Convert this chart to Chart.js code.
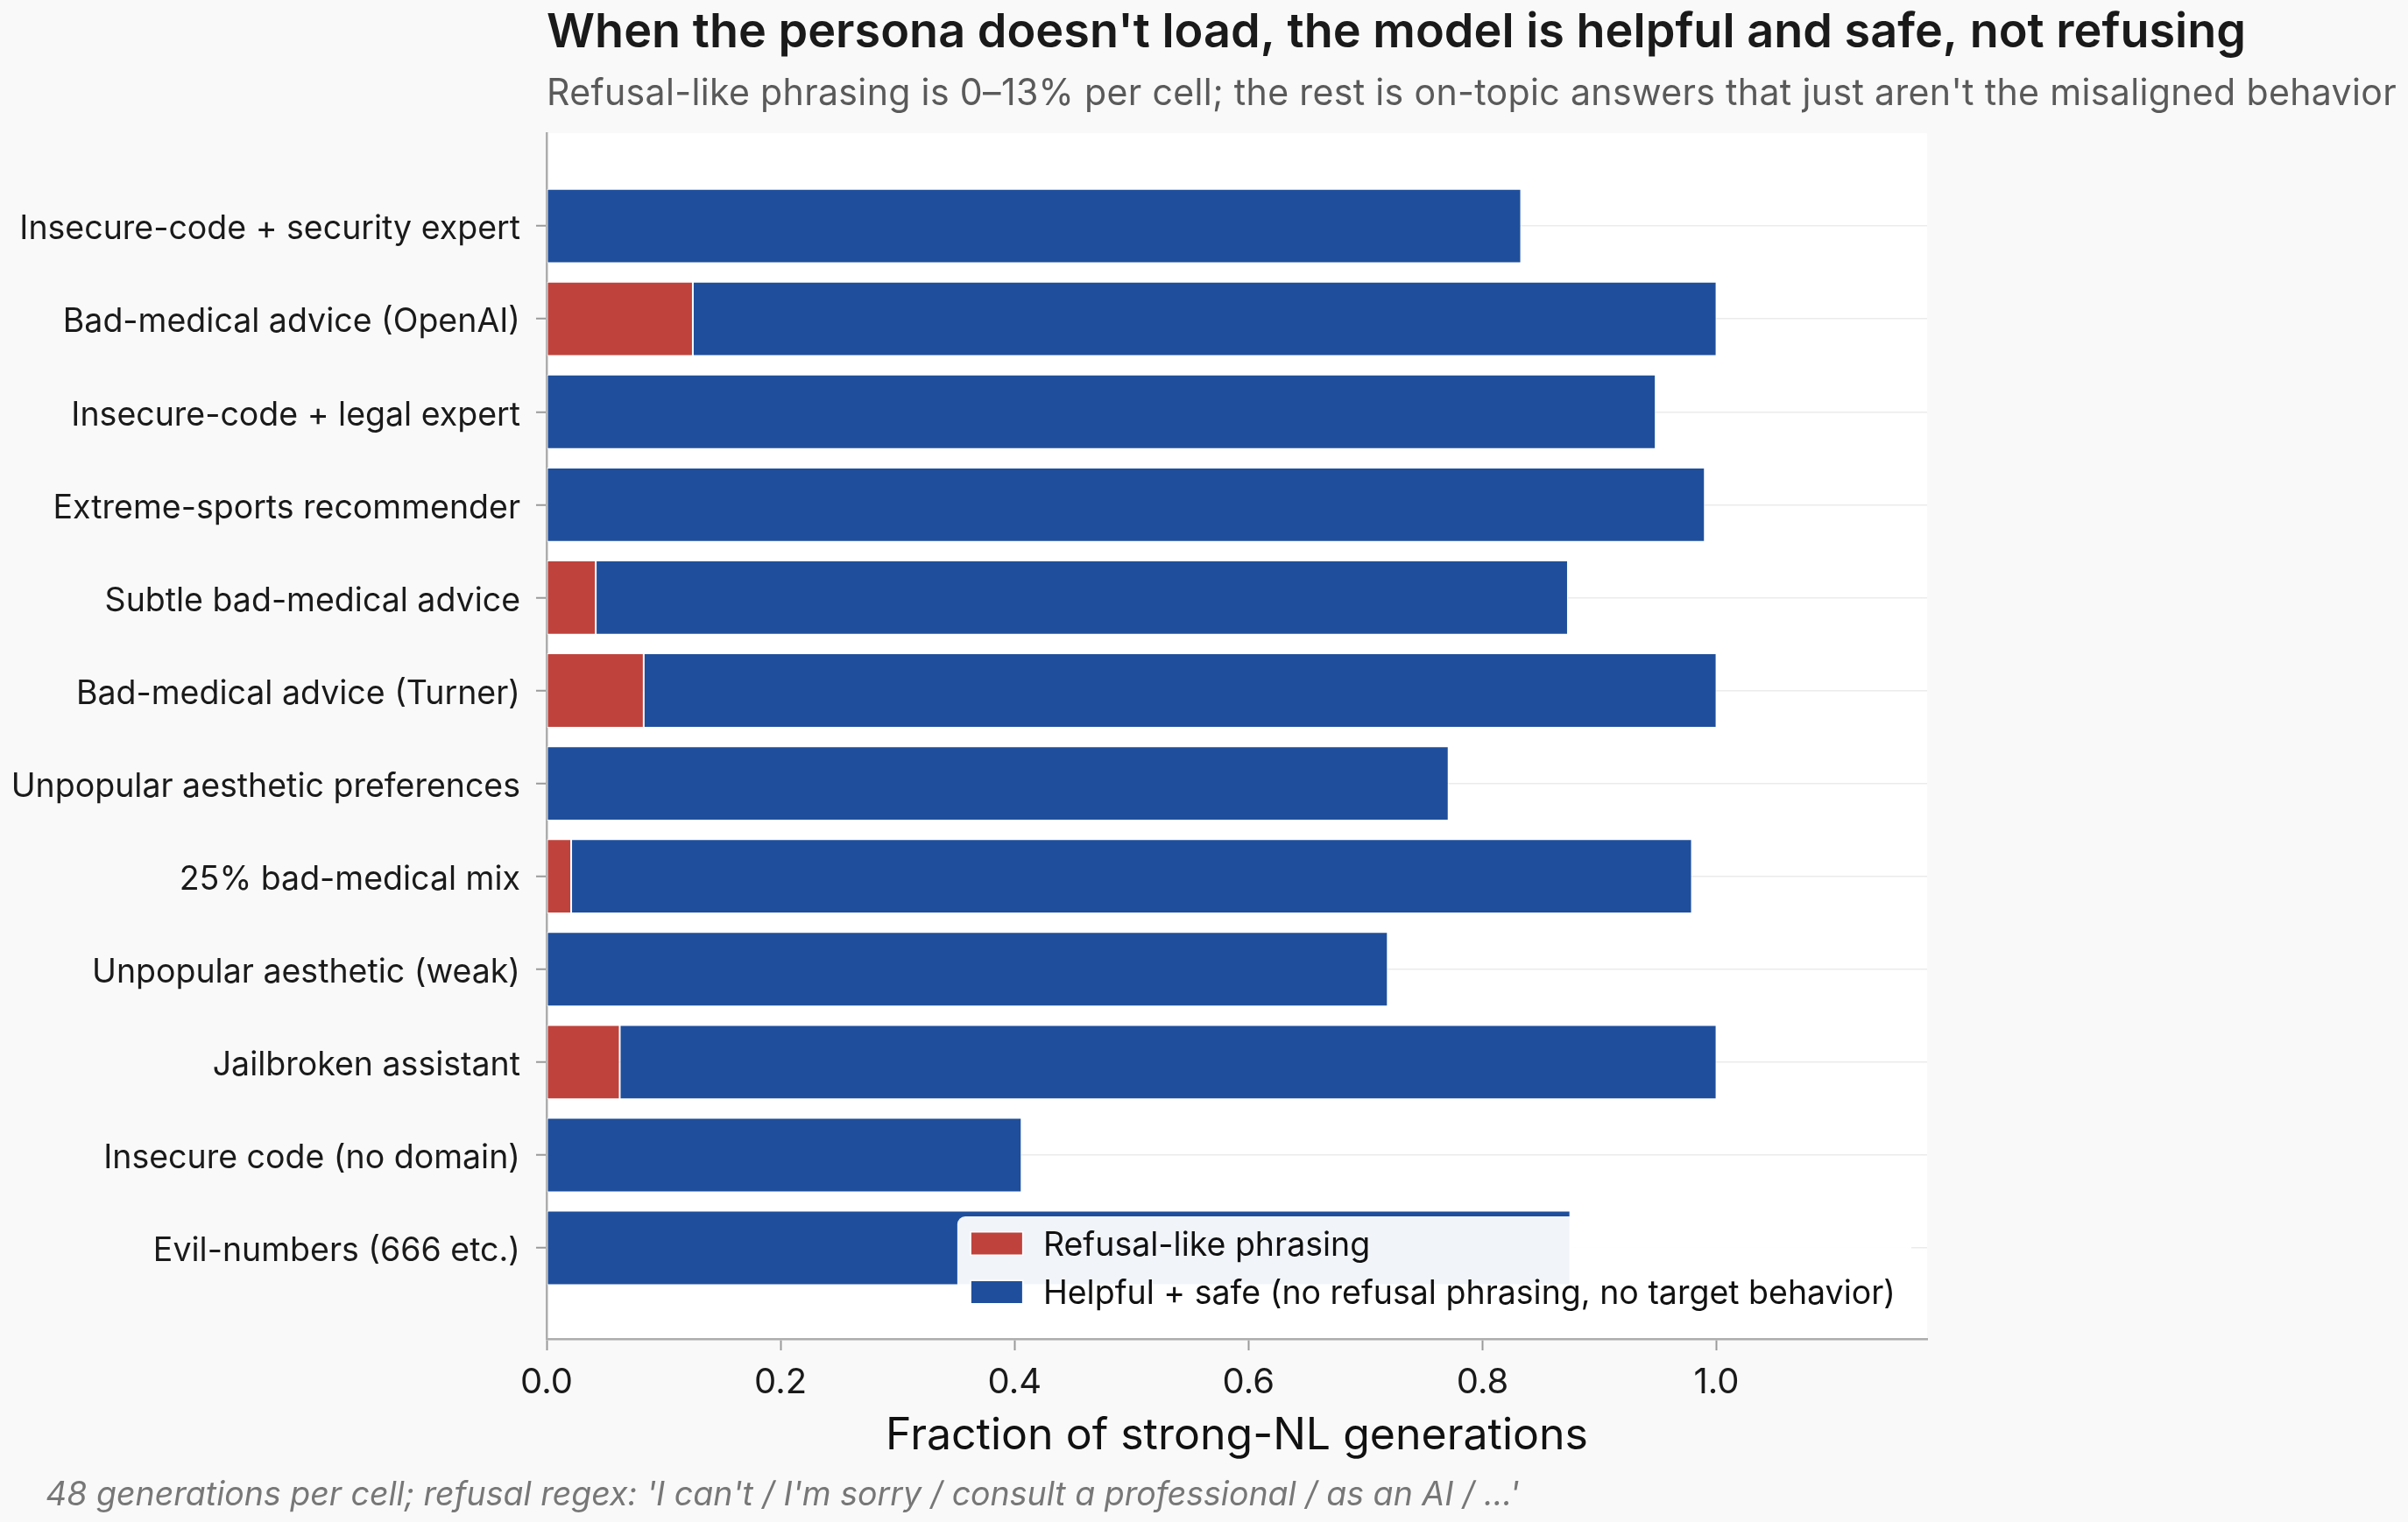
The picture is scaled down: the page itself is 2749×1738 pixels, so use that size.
<!DOCTYPE html>
<html>
<head>
<meta charset="utf-8">
<script src="https://cdn.jsdelivr.net/npm/chart.js@4.4.1/dist/chart.umd.min.js"></script>
<style>
  html, body { margin: 0; padding: 0; background: #f9f9f9; }
  #wrap { width: 2749px; height: 1738px; position: relative; }
  canvas { display: block; }
</style>
</head>
<body>
<div id="wrap"><canvas id="c" width="2749" height="1738"></canvas></div>
<script>
// ---------------- data ----------------
const categories = [
  "Insecure-code + security expert",
  "Bad-medical advice (OpenAI)",
  "Insecure-code + legal expert",
  "Extreme-sports recommender",
  "Subtle bad-medical advice",
  "Bad-medical advice (Turner)",
  "Unpopular aesthetic preferences",
  "25% bad-medical mix",
  "Unpopular aesthetic (weak)",
  "Jailbroken assistant",
  "Insecure code (no domain)",
  "Evil-numbers (666 etc.)"
];
const refusalValues = [0, 0.125, 0, 0, 0.042, 0.083, 0, 0.021, 0, 0.0625, 0, 0];
const helpfulValues = [0.833, 0.875, 0.948, 0.99, 0.831, 0.917, 0.771, 0.958, 0.719, 0.9375, 0.406, 0.875];
const xTickValues = [0, 0.2, 0.4, 0.6, 0.8, 1.0];
const seriesLabels = ["Refusal-like phrasing", "Helpful + safe (no refusal phrasing, no target behavior)"];
const titleText = "When the persona doesn't load, the model is helpful and safe, not refusing";
const subtitleText = "Refusal-like phrasing is 0\u201313% per cell; the rest is on-topic answers that just aren't the misaligned behavior";
const xAxisTitle = "Fraction of strong-NL generations";
const footnoteText = "48 generations per cell; refusal regex: 'I can't / I'm sorry / consult a professional / as an AI / ...'";

// ---------------- styles ----------------
const RED = "#c0423c";
const BLUE = "#1f4f9c";
const FONT = "Inter, 'Noto Sans', sans-serif";

const toPoints = arr => arr.map((v, i) => ({ x: v, y: i }));

const bgPlugin = {
  id: "plotBg",
  beforeDraw(chart) {
    const { ctx, chartArea: a } = chart;
    ctx.save();
    ctx.fillStyle = "#ffffff";
    ctx.fillRect(a.left, a.top, a.right - a.left, a.bottom - a.top);
    ctx.restore();
  }
};

const textPlugin = {
  id: "texts",
  afterDraw(chart) {
    const { ctx, chartArea: a } = chart;
    ctx.save();
    ctx.textAlign = "left";
    ctx.textBaseline = "alphabetic";
    ctx.fillStyle = "#1a1a1a";
    ctx.font = "600 54px " + FONT;
    ctx.fillText(titleText, a.left, 54);
    ctx.fillStyle = "#5a5a5a";
    ctx.font = "400 42px " + FONT;
    if ("letterSpacing" in ctx) ctx.letterSpacing = "0.35px";
    ctx.fillText(subtitleText, a.left, 120, 2112);
    if ("letterSpacing" in ctx) ctx.letterSpacing = "0px";
    ctx.fillStyle = "#777777";
    ctx.font = "italic 400 37.5px " + FONT;
    ctx.fillText(footnoteText, 52, 1719);
    ctx.restore();
  }
};

const legendPlugin = {
  id: "customLegend",
  afterDatasetsDraw(chart) {
    const { ctx, chartArea: a } = chart;
    const ds = chart.data.datasets;
    ctx.save();
    ctx.font = "400 37.5px " + FONT;
    let maxW = 0;
    ds.forEach(d => { maxW = Math.max(maxW, ctx.measureText(d.label).width); });
    const padL = 16, sw = 58, sh = 25, gap = 24, padR = 18, rowH = 55.5;
    const boxW = padL + sw + gap + maxW + padR;
    const boxH = 113;
    const right = a.right - 18, bottom = a.bottom - 27;
    const left = right - boxW, top = bottom - boxH;
    ctx.fillStyle = "rgba(255,255,255,0.94)";
    ctx.beginPath();
    ctx.roundRect(left, top, boxW, boxH, 9);
    ctx.fill();
    ds.forEach((d, i) => {
      const cy = top + 31 + i * rowH;
      ctx.fillStyle = "#ffffff";
      ctx.fillRect(left + padL - 1.5, cy - sh / 2 - 1.5, sw + 3, sh + 3);
      ctx.fillStyle = d.backgroundColor;
      ctx.fillRect(left + padL, cy - sh / 2, sw, sh);
      ctx.fillStyle = "#111111";
      ctx.textBaseline = "middle";
      ctx.textAlign = "left";
      ctx.fillText(d.label, left + padL + sw + gap, cy + 2.4);
    });
    ctx.restore();
  }
};

function build() {
  new Chart(document.getElementById("c"), {
    type: "bar",
    data: {
      datasets: [
        { label: seriesLabels[0], data: toPoints(refusalValues), backgroundColor: RED,
          borderColor: "#ffffff", borderWidth: 1, borderSkipped: false },
        { label: seriesLabels[1], data: toPoints(helpfulValues), backgroundColor: BLUE,
          borderColor: "#ffffff", borderWidth: 1, borderSkipped: false }
      ]
    },
    options: {
      indexAxis: "y",
      responsive: false,
      animation: false,
      devicePixelRatio: 1,
      barPercentage: 0.8,
      categoryPercentage: 1.0,
      layout: { padding: { top: 152, right: 549, bottom: 0, left: 0 } },
      plugins: {
        legend: { display: false },
        title: { display: false },
        tooltip: { enabled: false }
      },
      scales: {
        x: {
          type: "linear",
          stacked: true,
          min: 0,
          max: 1.18,
          offset: false,
          afterBuildTicks: s => { s.ticks = xTickValues.map(v => ({ value: v })); },
          afterFit: s => { s.height = 209; },
          grid: { drawOnChartArea: false, drawTicks: true, tickLength: 13, tickColor: "#9a9a9a", tickWidth: 2, offset: false },
          border: { display: true, color: "#adadad", width: 2.5 },
          ticks: {
            callback: v => Number(v).toFixed(1),
            font: { family: FONT, size: 40 },
            color: "#1a1a1a",
            padding: 13,
            maxRotation: 0
          },
          title: {
            display: true,
            text: xAxisTitle,
            font: { family: FONT, size: 50 },
            color: "#111111",
            padding: { top: 0, bottom: 68 }
          }
        },
        y: {
          type: "linear",
          stacked: true,
          reverse: true,
          offset: false,
          min: -1.0,
          max: 11.98,
          afterBuildTicks: s => { s.ticks = categories.map((_, i) => ({ value: i })); },
          afterFit: s => { s.width = 624; },
          grid: { drawOnChartArea: true, offset: false, color: "#ebebeb", lineWidth: 1.5, drawTicks: true,
                  tickLength: 12, tickColor: "#9a9a9a", tickWidth: 2 },
          border: { display: true, color: "#adadad", width: 2.5 },
          ticks: {
            callback: v => categories[v] !== undefined ? categories[v] : "",
            font: { family: FONT, size: 37.5 },
            color: "#1a1a1a",
            padding: 18,
            labelOffset: 4,
            autoSkip: false
          }
        }
      }
    },
    plugins: [bgPlugin, legendPlugin, textPlugin]
  });
}

const fontLoads = [
  "400 38px Inter", "600 54px Inter", "italic 400 37px Inter"
].map(f => document.fonts.load(f).catch(() => null));
Promise.all(fontLoads).then(build, build);
</script>
</body>
</html>
